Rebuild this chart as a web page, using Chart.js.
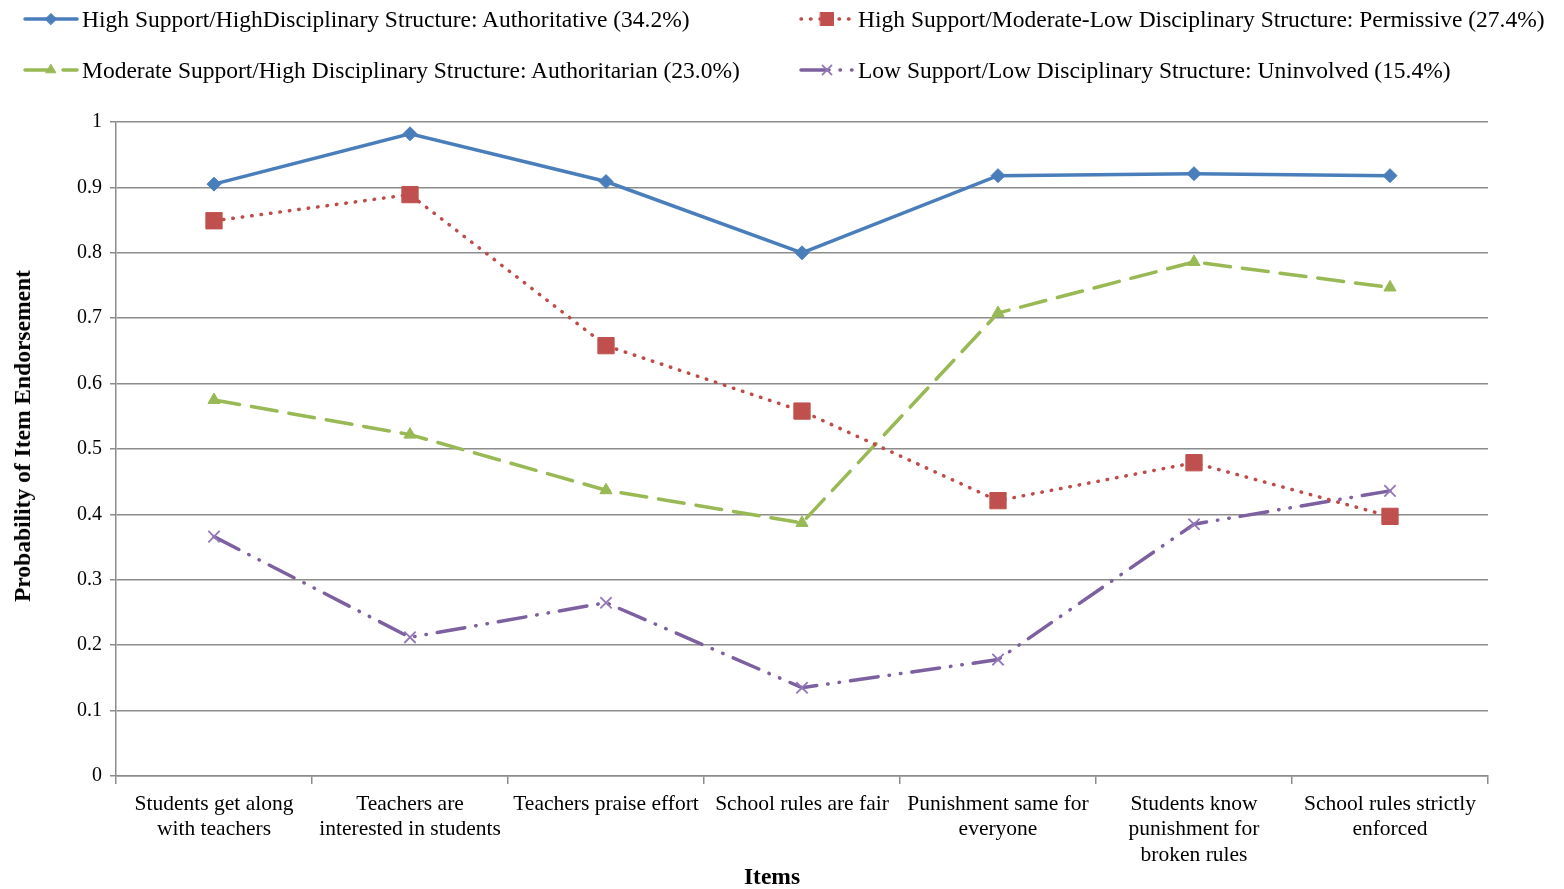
<!DOCTYPE html>
<html>
<head>
<meta charset="utf-8">
<script src="https://cdn.jsdelivr.net/npm/chart.js@4/dist/chart.umd.min.js"></script>
<style>
  body { margin: 0; background: #fff; }
  #wrap { position: relative; width: 1564px; height: 889px; }
  #chart { position: absolute; left: 0; top: 0; }
  .leg { position: absolute; font-family: "Liberation Serif", "Times New Roman", serif; font-size: 23.5px; color: #000; white-space: nowrap; display: flex; align-items: center; }
  .leg canvas { margin-right: 2px; }
  .axt { position: absolute; font-family: "Liberation Serif", "Times New Roman", serif; font-size: 23.5px; font-weight: bold; color: #000; white-space: nowrap; }
  #xt { left: 672px; width: 200px; text-align: center; top: 861px; line-height: 30px; }
  #yt { left: 22px; top: 436px; transform: translate(-50%, -50%) rotate(-90deg); line-height: 30px; }
</style>
</head>
<body>
<div id="wrap">
  <canvas id="chart" width="1564" height="889"></canvas>
  <div id="legend"></div>
  <div class="axt" id="xt">Items</div>
  <div class="axt" id="yt">Probability of Item Endorsement</div>
</div>
<script>
var items = [
  ["Students get along", "with teachers"],
  ["Teachers are", "interested in students"],
  ["Teachers praise effort"],
  ["School rules are fair"],
  ["Punishment same for", "everyone"],
  ["Students know", "punishment for", "broken rules"],
  ["School rules strictly", "enforced"]
];
var seriesNames = [
  "High Support/HighDisciplinary Structure: Authoritative (34.2%)",
  "High Support/Moderate-Low Disciplinary Structure: Permissive (27.4%)",
  "Moderate Support/High Disciplinary Structure: Authoritarian (23.0%)",
  "Low Support/Low Disciplinary Structure: Uninvolved (15.4%)"
];
var authoritative = [0.905, 0.982, 0.909, 0.800, 0.918, 0.921, 0.918];
var permissive = [0.849, 0.889, 0.658, 0.558, 0.421, 0.479, 0.397];
var authoritarian = [0.575, 0.522, 0.437, 0.387, 0.708, 0.786, 0.747];
var uninvolved = [0.366, 0.212, 0.265, 0.135, 0.178, 0.385, 0.436];

var serif = '"Liberation Serif", "Times New Roman", serif';

var styles = [
  { color: '#4a7ebb', dash: [], width: 3.5, point: 'rectRot', radius: 7, pointColor: '#4a7ebb', pointBorder: 1 },
  { color: '#be4b48', dash: [0.5, 9], width: 3.5, point: 'rect', radius: 11.5, pointColor: '#c0504d', pointBorder: 1 },
  { color: '#98b954', dash: [26, 12], width: 3.5, point: 'triangle', radius: 7, pointColor: '#98b954', pointBorder: 1 },
  { color: '#7d60a0', dash: [28, 11, 0.5, 11, 0.5, 11], width: 3.5, point: 'crossRot', radius: 8, pointColor: '#9278b4', pointBorder: 1.8 }
];
var values = [authoritative, permissive, authoritarian, uninvolved];

var datasets = values.map(function (v, i) {
  var s = styles[i];
  return {
    label: seriesNames[i],
    data: v,
    borderColor: s.color,
    borderWidth: s.width,
    borderDash: s.dash,
    borderCapStyle: 'round',
    pointStyle: s.point,
    pointRadius: s.radius,
    pointBackgroundColor: s.pointColor,
    pointBorderColor: s.pointColor,
    pointBorderWidth: s.pointBorder,
    tension: 0,
    fill: false
  };
});

new Chart(document.getElementById('chart'), {
  type: 'line',
  data: { labels: items, datasets: datasets },
  options: {
    responsive: false,
    animation: false,
    layout: { padding: { top: 122, right: 76, left: 0, bottom: 0 } },
    plugins: { legend: { display: false }, tooltip: { enabled: false } },
    scales: {
      x: {
        offset: true,
        afterFit: function (scale) { scale.height = 113; },
        border: { color: '#8c8c8c', width: 1.5 },
        grid: { offset: true, drawOnChartArea: false, tickLength: 8, color: '#8c8c8c', lineWidth: 1.5 },
        ticks: { color: '#000', font: { family: serif, size: 21.5, lineHeight: 1.2 }, maxRotation: 0, autoSkip: false, padding: 7 }
      },
      y: {
        min: 0,
        max: 1,
        afterFit: function (scale) { scale.width = 116; },
        border: { color: '#8c8c8c', width: 1.5 },
        grid: { color: '#8c8c8c', lineWidth: 1.5, tickLength: 6 },
        ticks: { stepSize: 0.1, color: '#000', font: { family: serif, size: 20 }, padding: 8,
          callback: function (v) { return Math.round(v * 10) / 10; } }
      }
    }
  }
});

// legend drawn as html with small icons
var legendPos = [[22, 19], [798, 19], [22, 70], [798, 70]];
var legend = document.getElementById('legend');
styles.forEach(function (s, i) {
  var div = document.createElement('div');
  div.className = 'leg';
  div.style.left = legendPos[i][0] + 'px';
  div.style.top = (legendPos[i][1] - 15) + 'px';
  var c = document.createElement('canvas');
  c.width = 58; c.height = 30;
  var g = c.getContext('2d');
  g.strokeStyle = s.color;
  g.lineWidth = s.width;
  g.lineCap = 'round';
  g.setLineDash(s.dash);
  g.beginPath(); g.moveTo(3, 15); g.lineTo(55, 15); g.stroke();
  g.setLineDash([]);
  g.fillStyle = s.pointColor; g.strokeStyle = s.pointColor; g.lineWidth = s.pointBorder;
  Chart.helpers.drawPoint(g, { pointStyle: s.point, radius: s.radius * 0.8, borderWidth: s.pointBorder }, 29, 15);
  div.appendChild(c);
  var t = document.createElement('span');
  t.textContent = seriesNames[i];
  div.appendChild(t);
  legend.appendChild(div);
});
</script>
</body>
</html>
